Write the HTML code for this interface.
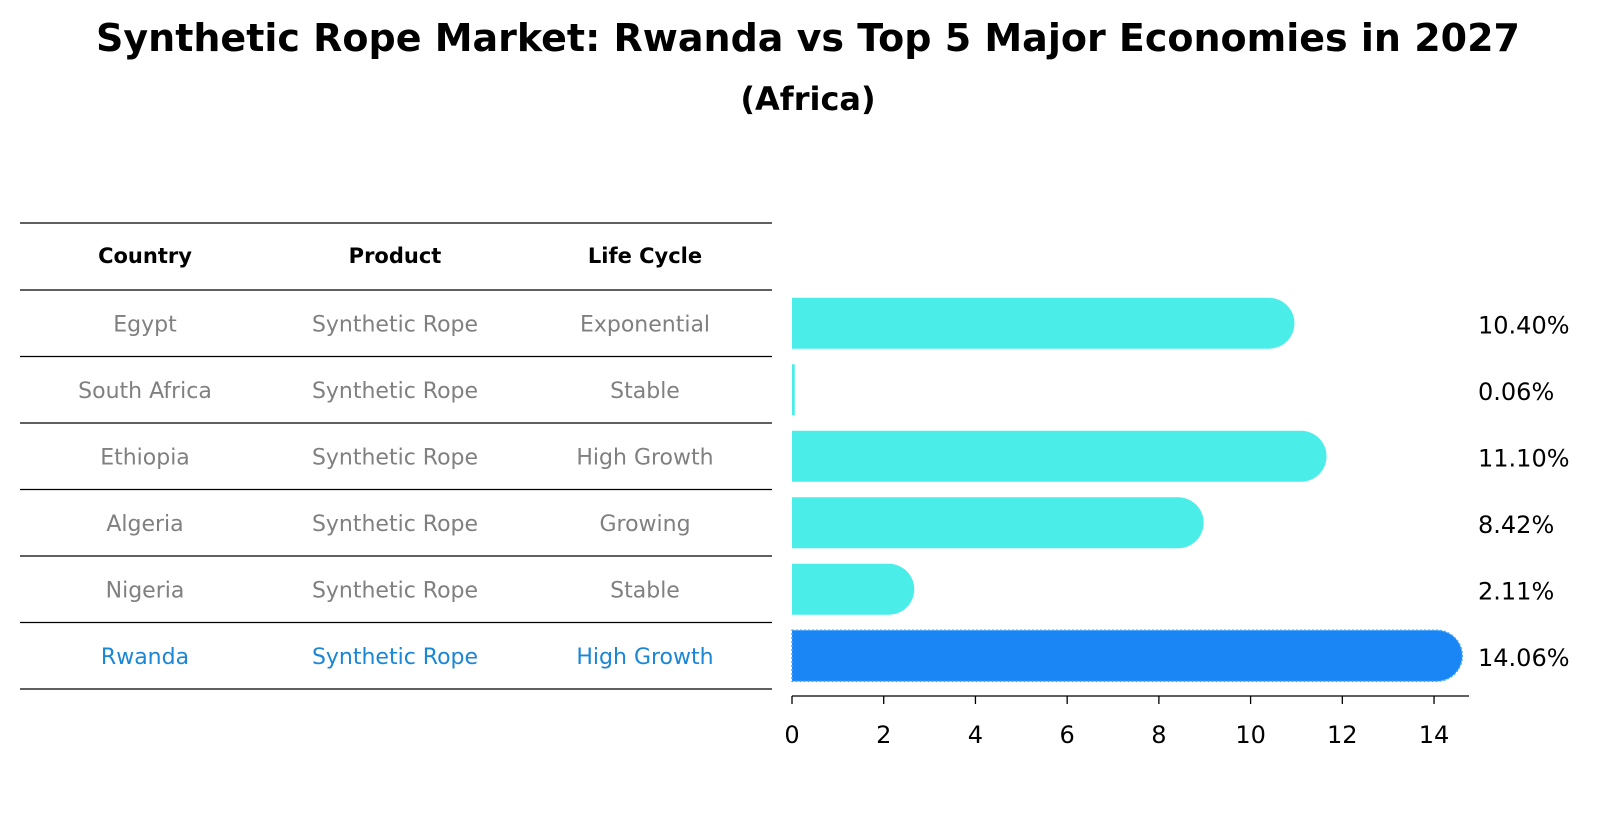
<!DOCTYPE html>
<html><head><meta charset="utf-8">
<style>
body{margin:0;background:#fff;}
svg text{font-family:"DejaVu Sans","Liberation Sans",sans-serif;}
</style></head>
<body>
<svg id="chart" width="1604" height="823" viewBox="0 0 1604 823" xmlns="http://www.w3.org/2000/svg">
<text x="808" y="51" text-anchor="middle" font-size="38" font-weight="bold">Synthetic Rope Market: Rwanda vs Top 5 Major Economies in 2027</text>
<text x="808" y="110" text-anchor="middle" font-size="32" font-weight="bold">(Africa)</text>
<g id="table"></g>
<g id="bars"></g>
<g id="axis"></g>
</svg>
<script>
const countries=["Egypt","South Africa","Ethiopia","Algeria","Nigeria","Rwanda"];
const products=["Synthetic Rope","Synthetic Rope","Synthetic Rope","Synthetic Rope","Synthetic Rope","Synthetic Rope"];
const lifeCycles=["Exponential","Stable","High Growth","Growing","Stable","High Growth"];
const values=[10.40,0.06,11.10,8.42,2.11,14.06];
const valueLabels=["10.40%","0.06%","11.10%","8.42%","2.11%","14.06%"];
const ticks=[0,2,4,6,8,10,12,14];

const NS="http://www.w3.org/2000/svg";
const x0=792, pxPer=45.86;
function xs(v){return x0+v*pxPer;}
const rowTop=290, rowH=66.5;
function yc(i){return rowTop+rowH*i+rowH/2;}
function mk(tag,attrs,parent){const e=document.createElementNS(NS,tag);for(const k in attrs)e.setAttribute(k,attrs[k]);parent.appendChild(e);return e;}

const table=document.getElementById('table');
const lineYs=[223];
for(let i=0;i<=countries.length;i++)lineYs.push(rowTop+rowH*i);
lineYs.forEach((y,i)=>{
  const l=mk('line',{x1:20,x2:772,y1:y,y2:y,stroke:'#000','stroke-width':1.2},table);
  
  
});
const colX=[145,395,645];
const heads=["Country","Product","Life Cycle"];
heads.forEach((h,j)=>{
  const t=mk('text',{x:colX[j],y:263,'text-anchor':'middle','font-size':21,'font-weight':'bold'},table);
  t.textContent=h;
  
  
});
countries.forEach((c,i)=>{
  const col=i===countries.length-1?'#1a86d6':'#808080';
  [c,products[i],lifeCycles[i]].forEach((txt,j)=>{
    const t=mk('text',{x:colX[j],y:yc(i)+8,'text-anchor':'middle','font-size':22,fill:col},table);
    t.textContent=txt;
    
    
  });
});

const bars=document.getElementById('bars');
const bh=51, r=25.5;
values.forEach((v,i)=>{
  const isR=i===values.length-1;
  const col=isR?'#1a86f5':'#4bede8';
  const y=yc(i)-bh/2, xe=xs(v);
  let d;
  if(v*pxPer>6){
    d=`M${x0},${y} H${xe} A${r},${r} 0 0 1 ${xe},${y+bh} H${x0} Z`;
  }else{
    d=`M${x0},${y} H${Math.max(xe,x0+2.5)} V${y+bh} H${x0} Z`;
  }
  const p=mk('path',{d:d,fill:col},bars);
  if(isR){p.setAttribute('stroke','#4aa8ff');p.setAttribute('stroke-width','1.5');p.setAttribute('stroke-dasharray','2 2');}
  
  
  const t=mk('text',{x:1478,y:yc(i)+10,'font-size':24},bars);
  t.textContent=valueLabels[i];
  
  
});

const axis=document.getElementById('axis');
const al=mk('line',{x1:x0,x2:1469,y1:696,y2:696,stroke:'#000','stroke-width':1.3},axis);


ticks.forEach(tv=>{
  const l=mk('line',{x1:xs(tv),x2:xs(tv),y1:696,y2:704,stroke:'#000','stroke-width':1.3},axis);
  
  
  const t=mk('text',{x:xs(tv),y:743,'text-anchor':'middle','font-size':24},axis);
  t.textContent=tv;
  
  
});
</script>
</body></html>
